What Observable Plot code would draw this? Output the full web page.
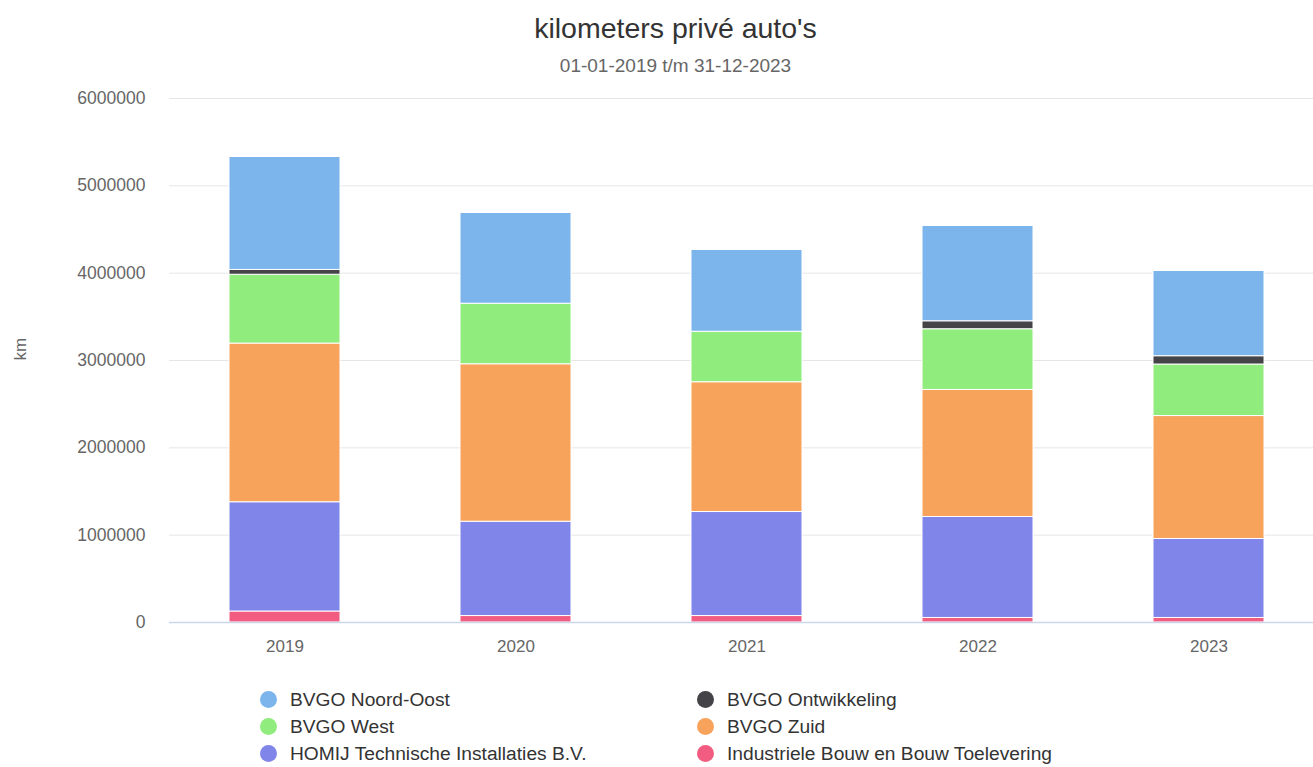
<!DOCTYPE html>
<html>
<head>
<meta charset="utf-8">
<script src="https://cdn.jsdelivr.net/npm/d3@7"></script>
<script src="https://cdn.jsdelivr.net/npm/@observablehq/plot@0.6"></script>
<style>
  body { margin: 0; background: #fff; font-family: "Liberation Sans", Arial, sans-serif; }
  #wrap { position: relative; width: 1313px; height: 767px; }
  #title { position: absolute; top: 11px; left: 38px; width: 1275px; text-align: center; font-size: 28.5px; line-height: 34px; color: #333; }
  #subtitle { position: absolute; top: 55px; left: 38px; width: 1275px; text-align: center; font-size: 19px; line-height: 22px; color: #666; }
  #chart { position: absolute; top: 80px; left: 0; }
  #legend { position: absolute; top: 688px; left: 260px; }
  .item { position: absolute; white-space: nowrap; font-size: 19.2px; color: #333; height: 24px; line-height: 24px; }
  .dot { display: inline-block; width: 17px; height: 17px; border-radius: 50%; vertical-align: -2px; margin-right: 13px; }
</style>
</head>
<body>
<div id="wrap">
  <div id="title">kilometers privé auto's</div>
  <div id="subtitle">01-01-2019 t/m 31-12-2023</div>
  <div id="chart"></div>
  <div id="legend"></div>
</div>
<script>
const years = ["2019", "2020", "2021", "2022", "2023"];
// stacking order: bottom first
const seriesNames = [
  "Industriele Bouw en Bouw Toelevering",
  "HOMIJ Technische Installaties B.V.",
  "BVGO Zuid",
  "BVGO West",
  "BVGO Ontwikkeling",
  "BVGO Noord-Oost"
];
const industriele = [126000, 74000, 74000, 52000, 52000];
const homij       = [1251000, 1080000, 1191000, 1156000, 904000];
const zuid        = [1817000, 1803000, 1486000, 1455000, 1408000];
const west        = [788000, 693000, 578000, 695000, 590000];
const ontwikkeling= [55000, 0, 0, 91000, 95000];
const noordOost   = [1293000, 1039000, 937000, 1091000, 976000];
const seriesValues = [industriele, homij, zuid, west, ontwikkeling, noordOost];
const seriesColors = ["#f15c80", "#8085e9", "#f7a35c", "#90ed7d", "#434348", "#7cb5ec"];
const yTicks = [0, 1000000, 2000000, 3000000, 4000000, 5000000, 6000000];

const legendOrder = [
  ["BVGO Noord-Oost", "BVGO Ontwikkeling"],
  ["BVGO West", "BVGO Zuid"],
  ["HOMIJ Technische Installaties B.V.", "Industriele Bouw en Bouw Toelevering"]
];

const table = [];
seriesNames.forEach((s, i) => {
  years.forEach((y, j) => {
    table.push({year: y, series: s, value: seriesValues[i][j]});
  });
});

const chart = Plot.plot({
  width: 1313,
  height: 590,
  marginTop: 18,
  marginBottom: 48,
  marginLeft: 169,
  marginRight: 0,
  style: {fontFamily: "Liberation Sans, Arial, sans-serif", fontSize: "17px", color: "#666", background: "#fff"},
  x: {domain: years, range: [168, 1324], paddingInner: 0.52, paddingOuter: 0.26, label: null},
  y: {domain: [0, 6000000], label: null},
  color: {domain: seriesNames, range: seriesColors},
  marks: [
    Plot.gridY(yTicks, {stroke: "#e6e6e6", strokeOpacity: 1, strokeWidth: 1}),
    Plot.axisY(yTicks, {tickSize: 0, tickPadding: 24, tickFormat: d3.format("d"), label: null, fill: "#666", fontSize: 17.5}),
    Plot.axisX({tickSize: 0, tickPadding: 17, label: null, fill: "#666", fontSize: 17}),
    Plot.barY(table, {x: "year", y: "value", fill: "series", stroke: "#fff", strokeWidth: 1}),
    Plot.ruleY([0], {stroke: "#ccd6eb", strokeWidth: 1.5}),
    Plot.text(["km"], {frameAnchor: "left", dx: -149, rotate: -90, fill: "#666", fontSize: 17})
  ]
});
document.getElementById("chart").appendChild(chart);

const colorOf = Object.fromEntries(seriesNames.map((s, i) => [s, seriesColors[i]]));
const legend = document.getElementById("legend");
legendOrder.forEach((row, r) => {
  row.forEach((name, c) => {
    const el = document.createElement("div");
    el.className = "item";
    el.style.top = (r * 27) + "px";
    el.style.left = (c * 437) + "px";
    el.innerHTML = `<span class="dot" style="background:${colorOf[name]}"></span>${name}`;
    legend.appendChild(el);
  });
});
</script>
</body>
</html>
